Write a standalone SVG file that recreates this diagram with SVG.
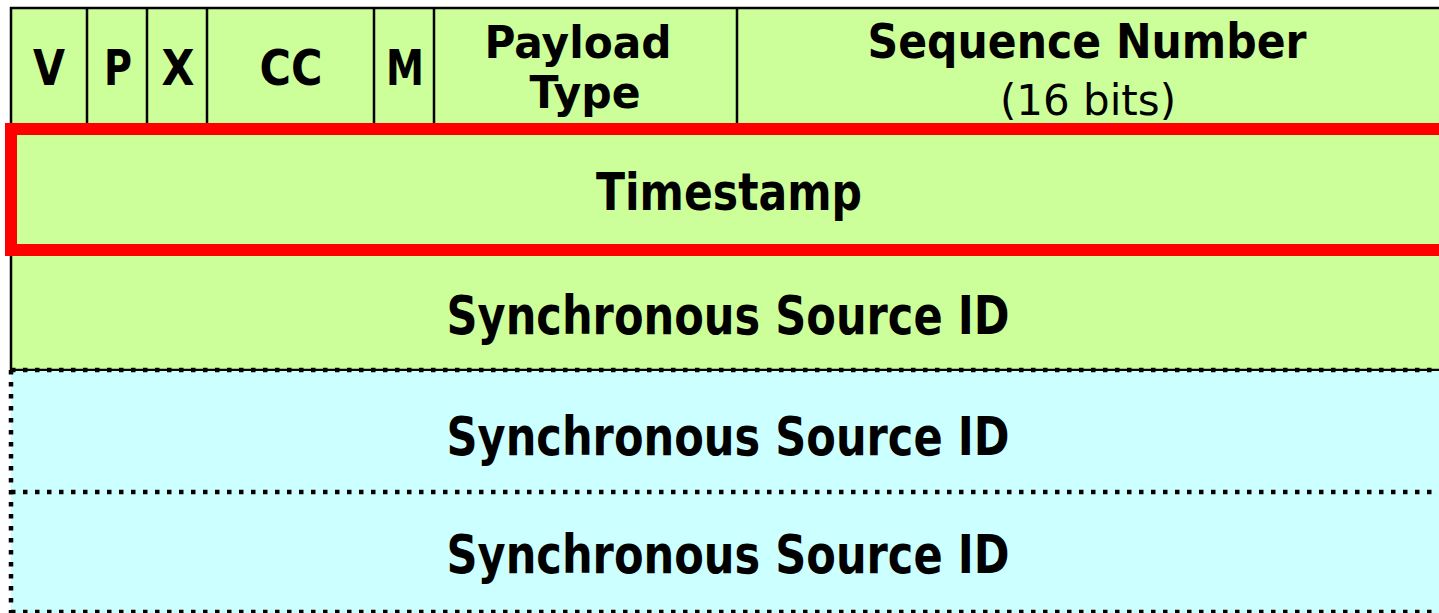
<svg xmlns="http://www.w3.org/2000/svg" width="1439" height="613" viewBox="0 0 1439 613">
<style>
.g{fill:#ccff99}
.c{fill:#ccffff}
.sl{stroke:#000;stroke-width:2.5;fill:none}
.dl{stroke:#000;stroke-width:4.5;stroke-dasharray:4.5 7.5;fill:none}
.b{font-family:"DejaVu Sans",Verdana,sans-serif;font-weight:bold;fill:#000;text-anchor:middle}
.r{font-family:"DejaVu Sans",Verdana,sans-serif;fill:#000;text-anchor:middle}
</style>
<rect width="1439" height="613" fill="#fff"/>
<g id="header">
<rect class="g" x="11" y="8" width="1440" height="116"/>
<path class="sl" d="M11,124 V8 H1445 M87,8 V124 M147,8 V124 M207,8 V124 M374,8 V124 M434,8 V124 M737,8 V124"/>
<text class="b" x="49" y="85" font-size="50" textLength="32" lengthAdjust="spacingAndGlyphs">V</text>
<text class="b" x="118" y="85" font-size="50" textLength="28" lengthAdjust="spacingAndGlyphs">P</text>
<text class="b" x="178" y="85" font-size="50" textLength="33" lengthAdjust="spacingAndGlyphs">X</text>
<text class="b" x="291" y="85" font-size="50" textLength="63" lengthAdjust="spacingAndGlyphs">CC</text>
<text class="b" x="405" y="85" font-size="50" textLength="38" lengthAdjust="spacingAndGlyphs">M</text>
<text class="b" x="578" y="58" font-size="44" textLength="187" lengthAdjust="spacingAndGlyphs">Payload</text>
<text class="b" x="585" y="108" font-size="44" textLength="111" lengthAdjust="spacingAndGlyphs">Type</text>
<text class="b" x="1087" y="58" font-size="48" textLength="439" lengthAdjust="spacingAndGlyphs">Sequence Number</text>
<text class="r" x="1088" y="115" font-size="42" textLength="176" lengthAdjust="spacingAndGlyphs">(16 bits)</text>
</g>
<g id="timestamp">
<rect class="g" x="11" y="124" width="1440" height="132"/>
<rect x="11" y="129" width="1440" height="121" fill="none" stroke="#ff0000" stroke-width="12"/>
<text class="b" x="729" y="210" font-size="51" textLength="266" lengthAdjust="spacingAndGlyphs">Timestamp</text>
</g>
<g id="ssrc">
<rect class="g" x="11" y="256" width="1440" height="114"/>
<path class="sl" d="M11,256 V370 H1445" stroke-width="2"/>
<text class="b" x="728" y="334" font-size="53" textLength="563" lengthAdjust="spacingAndGlyphs">Synchronous Source ID</text>
</g>
<g id="csrc1">
<rect class="c" x="11" y="371" width="1440" height="121"/>
<text class="b" x="728" y="455" font-size="53" textLength="563" lengthAdjust="spacingAndGlyphs">Synchronous Source ID</text>
</g>
<g id="csrc2">
<rect class="c" x="11" y="492" width="1440" height="121"/>
<text class="b" x="728" y="573" font-size="53" textLength="563" lengthAdjust="spacingAndGlyphs">Synchronous Source ID</text>
</g>
<g id="borders">
<path class="dl" d="M11,370 H1445 M11,492 H1445 M11,612 H1445 M11,370 V613"/>
</g>
</svg>
